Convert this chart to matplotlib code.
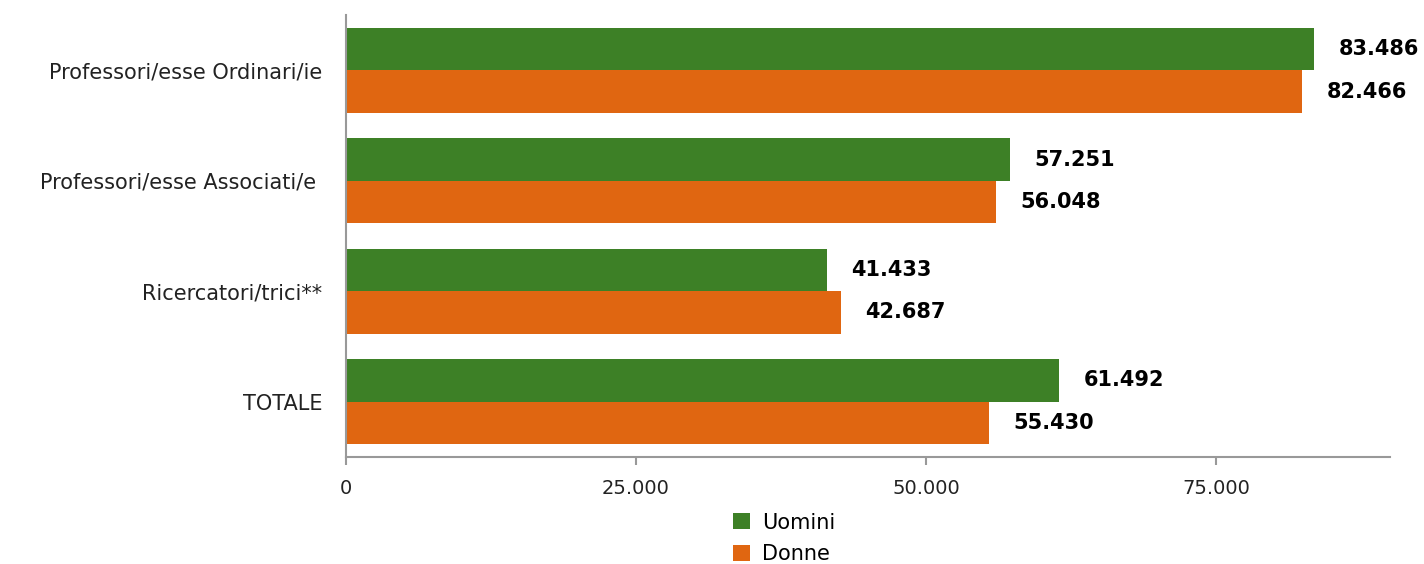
import matplotlib.pyplot as plt
import numpy as np

categorie = ['Professori/esse Ordinari/ie', 'Professori/esse Associati/e ',
             'Ricercatori/trici**', 'TOTALE']
uomini = [83486, 57251, 41433, 61492]
donne = [82466, 56048, 42687, 55430]
ticks = [0, 25000, 50000, 75000]

verde = '#3d8026'
arancio = '#e06611'

plt.rcParams['font.family'] = ['DejaVu Sans']

fig = plt.figure(figsize=(14.24, 5.64), dpi=100)
ax = fig.add_axes([0.243, 0.190, 0.733, 0.783])

y = np.arange(len(categorie))
h = 0.385

b1 = ax.barh(y - h / 2, uomini, height=h, color=verde, label='Uomini')
b2 = ax.barh(y + h / 2, donne, height=h, color=arancio, label='Donne')

def fmt(v):
    return f'{v:,}'.replace(',', '.')

for bars, vals in [(b1, uomini), (b2, donne)]:
    for bar, v in zip(bars, vals):
        ax.text(v + 2100, bar.get_y() + bar.get_height() / 2, fmt(v),
                va='center', ha='left', fontsize=15, fontweight='bold',
                color='black')

ax.set_xlim(0, 90000)
ax.set_ylim(len(categorie) - 0.5, -0.5)
ax.set_xticks(ticks)
ax.set_xticklabels([fmt(t) for t in ticks], fontsize=14, color='#222222')
ax.set_yticks(y)
ax.set_yticklabels(categorie, fontsize=15, color='#222222')
ax.tick_params(axis='y', length=0, pad=17)
ax.tick_params(axis='x', length=6, color='#999999', width=1.5, pad=10)

for s in ['top', 'right']:
    ax.spines[s].set_visible(False)
for s in ['left', 'bottom']:
    ax.spines[s].set_color('#999999')
    ax.spines[s].set_linewidth(1.5)

ax.legend(loc='upper center', bbox_to_anchor=(0.42, -0.098), ncol=1,
          frameon=False, fontsize=15, handlelength=0.8, handleheight=0.8,
          handletextpad=0.6, labelspacing=0.55, borderaxespad=0.2)

fig.savefig('out.png', dpi=100)
